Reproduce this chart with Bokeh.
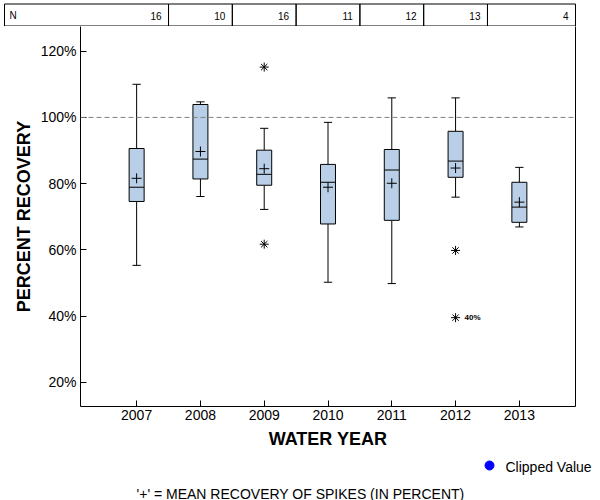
from bokeh.plotting import figure
from bokeh.models import Range1d, FixedTicker, PrintfTickFormatter, Span, LinearAxis, ColumnDataSource
from bokeh.layouts import column
from bokeh.core.properties import value
from bokeh.embed import file_html
from bokeh.resources import INLINE

# ---------------- data ----------------
years = ["2007", "2008", "2009", "2010", "2011", "2012", "2013"]
n_counts = [16, 10, 16, 11, 12, 13, 4]
whisker_high = [110.0, 104.7, 96.7, 98.5, 105.9, 105.9, 84.9]
q3 = [90.6, 103.9, 90.1, 85.8, 90.3, 95.8, 80.4]
median = [78.9, 87.4, 82.8, 80.4, 84.1, 86.8, 72.9]
q1 = [74.6, 81.4, 79.5, 67.8, 68.9, 81.9, 68.3]
whisker_low = [55.3, 76.1, 72.2, 50.2, 49.8, 75.9, 66.9]
means = [81.6, 89.7, 84.5, 78.9, 80.1, 84.7, 74.4]
outlier_years = ["2009", "2009", "2012", "2012"]
outlier_values = [115.2, 61.7, 59.8, 39.5]
labeled_year = ["2012"]
labeled_value = [39.5]
labeled_text = ["40%"]
y_ticks = [20, 40, 60, 80, 100, 120]
reference_value = 100

FONT = "Liberation Sans"
BOX_FILL = "#b9cfe7"

# ---------------- layout constants ----------------
X0, X1 = 0.12, 7.88
Y0, Y1 = 12.66, 127.46
LEFT_PX, RIGHT_PX, FRAME_W = 80, 25, 495
k = FRAME_W / (X1 - X0)          # px per category unit
BOX_W = 0.235
CAP_W = 0.13

pos = {y: i + 1 for i, y in enumerate(years)}
xs = [pos[y] for y in years]

src = ColumnDataSource(dict(
    x=xs,
    left=[x - BOX_W / 2 for x in xs],
    right=[x + BOX_W / 2 for x in xs],
    cl=[x - CAP_W / 2 for x in xs],
    cr=[x + CAP_W / 2 for x in xs],
    hi=whisker_high, q3=q3, med=median, q1=q1, lo=whisker_low, mean=means,
))

# ---------------- header (N table) ----------------
header = figure(width=600, height=26, x_range=Range1d(X0 - LEFT_PX / k, X1 + RIGHT_PX / k),
                y_range=Range1d(26, 0), output_backend="svg", toolbar_location=None,
                min_border=0, x_axis_type=None, y_axis_type=None, outline_line_color=None,
                frame_align=False)
left_edge = X0 - (LEFT_PX - 4) / k
cell_left = [left_edge] + [x + 0.5 for x in xs[:-1]]
cell_right = [x + 0.5 for x in xs[:-1]] + [X1]
header.quad(left=cell_left, right=cell_right, top=3.5, bottom=25.5,
            fill_color=None, line_color="black", line_width=1)
header.text(x=cell_right, y=[15] * len(xs), text=[str(n) for n in n_counts],
            text_align="right", text_baseline="middle", x_offset=-7,
            text_font=value(FONT), text_font_size="10px", text_color="black")
header.text(x=[left_edge], y=[15], text=["N"], text_align="left", text_baseline="middle",
            x_offset=5, text_font=value(FONT), text_font_size="10px", text_color="black")

# ---------------- main plot ----------------
p = figure(width=600, height=429, x_range=Range1d(X0, X1), y_range=Range1d(Y0, Y1),
           output_backend="svg", toolbar_location=None,
           min_border_left=LEFT_PX, min_border_right=RIGHT_PX, min_border_top=0, min_border_bottom=49,
           outline_line_color=None, frame_align=False)
p.xgrid.visible = False
p.ygrid.visible = False

p.add_layout(Span(location=reference_value, dimension="width", line_color="#808080",
                  line_dash="5 3", line_width=1))

p.segment(x0="x", x1="x", y0="q3", y1="hi", source=src, line_color="black", line_width=1)
p.segment(x0="x", x1="x", y0="q1", y1="lo", source=src, line_color="black", line_width=1)
p.segment(x0="cl", x1="cr", y0="hi", y1="hi", source=src, line_color="black", line_width=1)
p.segment(x0="cl", x1="cr", y0="lo", y1="lo", source=src, line_color="black", line_width=1)
p.quad(left="left", right="right", top="q3", bottom="q1", source=src,
       fill_color=BOX_FILL, line_color="black", line_width=1)
p.segment(x0="left", x1="right", y0="med", y1="med", source=src, line_color="black", line_width=1)
p.scatter(x="x", y="mean", source=src, marker="cross", size=10, line_color="black", line_width=1)

p.scatter(x=[pos[y] for y in outlier_years], y=outlier_values, marker="asterisk", size=9,
          line_color="black", line_width=1)
p.text(x=[pos[y] for y in labeled_year], y=labeled_value, text=labeled_text, x_offset=9,
       text_baseline="middle", text_align="left", text_font=value(FONT), text_font_size="8px",
       text_font_style="bold", text_color="black")

# axes
p.xaxis.ticker = FixedTicker(ticks=xs)
p.xaxis.major_label_overrides = {x: y for x, y in zip(xs, years)}
p.yaxis.ticker = FixedTicker(ticks=y_ticks)
p.yaxis.formatter = PrintfTickFormatter(format="%d%%")
p.xaxis.axis_label = "WATER YEAR"
p.yaxis.axis_label = "PERCENT RECOVERY"
for ax in (p.xaxis[0], p.yaxis[0]):
    ax.axis_line_color = "black"
    ax.major_tick_line_color = "black"
    ax.major_tick_in = 6
    ax.major_tick_out = 0
    ax.minor_tick_line_color = None
    ax.major_label_text_font = FONT
    ax.major_label_text_font_size = "14px"
    ax.major_label_text_color = "black"
    ax.axis_label_text_font = FONT
    ax.axis_label_text_font_size = "18px"
    ax.axis_label_text_font_style = "bold"
    ax.axis_label_text_color = "black"
p.xaxis.major_label_standoff = 3
p.xaxis.axis_label_standoff = 6
p.yaxis.major_label_standoff = 4
p.yaxis.axis_label_standoff = 4

p.add_layout(LinearAxis(ticker=FixedTicker(ticks=[]), axis_line_color="black",
                        major_tick_line_color=None, minor_tick_line_color=None,
                        major_label_text_font_size="0px"), "right")

# ---------------- footer ----------------
footer = figure(width=600, height=45, x_range=Range1d(0, 600), y_range=Range1d(45, 0),
                output_backend="svg", toolbar_location=None, min_border=0,
                x_axis_type=None, y_axis_type=None, outline_line_color=None,
                frame_align=False)
footer.scatter(x=[489], y=[10], marker="circle", size=9, fill_color="#0000ff", line_color="#0000ff")
footer.text(x=[505], y=[11.7], text=["Clipped Value"], text_align="left", text_baseline="middle",
            text_font=value(FONT), text_font_size="14px", text_color="black")
footer.text(x=[300], y=[38], text=["'+' = MEAN RECOVERY OF SPIKES (IN PERCENT)"], text_align="center",
            text_baseline="middle", text_font=value(FONT), text_font_size="14px", text_color="black")

layout = column(header, p, footer, spacing=0)
open("out.html", "w").write(file_html(layout, INLINE))
